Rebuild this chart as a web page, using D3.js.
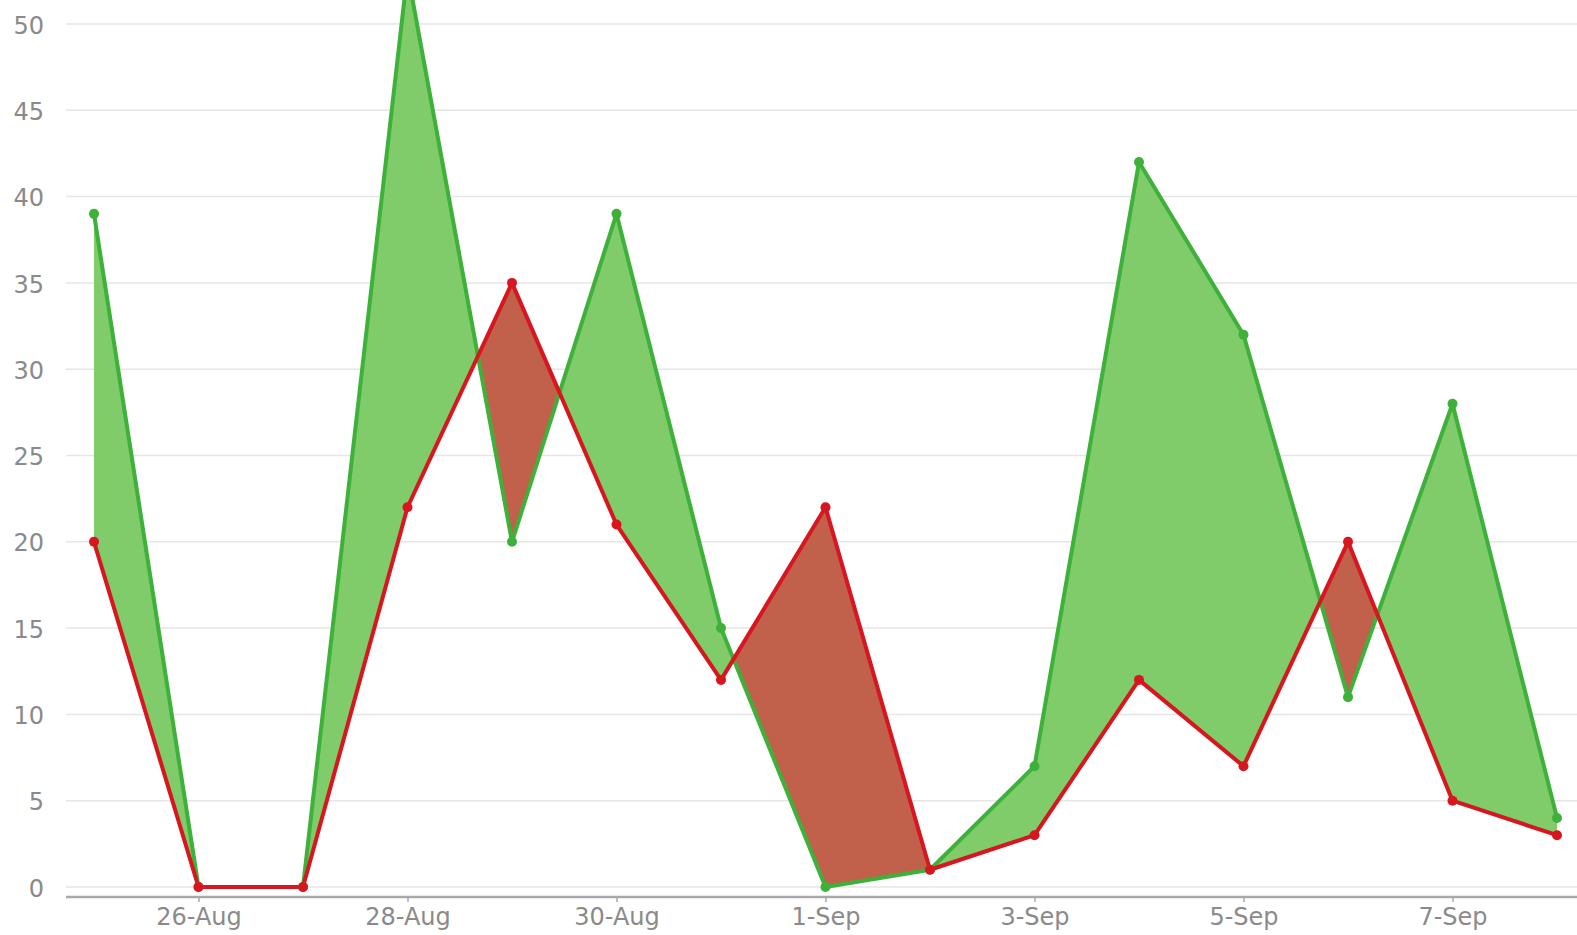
<!DOCTYPE html>
<html>
<head>
<meta charset="utf-8">
<script src="https://cdn.jsdelivr.net/npm/d3@7"></script>
<style>
  body { margin: 0; background: #fff; }
  svg { display: block; }
</style>
</head>
<body>
<div id="chart"></div>
<script>
// dates and the two series
const days = ["2015-08-25", "2015-08-26", "2015-08-27", "2015-08-28", "2015-08-29", "2015-08-30",
    "2015-08-31", "2015-09-01", "2015-09-02", "2015-09-03", "2015-09-04", "2015-09-05",
    "2015-09-06", "2015-09-07", "2015-09-08"];
const greenValues = [39, 0, 0, 53, 20, 39, 15, 0, 1, 7, 42, 32, 11, 28, 4];
const redValues = [20, 0, 0, 22, 35, 21, 12, 22, 1, 3, 12, 7, 20, 5, 3];
const yTicks = [0, 5, 10, 15, 20, 25, 30, 35, 40, 45, 50];
const xTicks = ["2015-08-26", "2015-08-28", "2015-08-30", "2015-09-01", "2015-09-03", "2015-09-05", "2015-09-07"];

const width = 1577, height = 935;
const parse = d3.utcParse("%Y-%m-%d");

const data = days.map((d, i) => ({ date: parse(d), g: greenValues[i], r: redValues[i] }));

const x = d3.scaleUtc()
    .domain([parse(days[0]), parse(days[days.length - 1])])
    .range([94, 1557]);

const y = d3.scaleLinear()
    .domain([0, 50])
    .range([887, 24]);

const svg = d3.select("#chart").append("svg")
    .attr("width", width)
    .attr("height", height)
    .style("font-family", "'DejaVu Sans', sans-serif");

// gridlines
svg.append("g")
    .selectAll("line")
    .data(yTicks)
    .join("line")
    .attr("x1", 66)
    .attr("x2", width)
    .attr("y1", d => y(d))
    .attr("y2", d => y(d))
    .attr("stroke", "#e6e6e6")
    .attr("stroke-width", 1.5);

// y labels
svg.append("g")
    .selectAll("text")
    .data(yTicks)
    .join("text")
    .attr("x", 44)
    .attr("y", d => y(d) + 1)
    .attr("dy", "0.36em")
    .attr("text-anchor", "end")
    .attr("fill", "#8a8a8a")
    .style("font-size", "24px")
    .text(d => d);

// clip regions above and below the red line
const defs = svg.append("defs");
defs.append("clipPath").attr("id", "clip-above")
  .append("path")
    .datum(data)
    .attr("d", d3.area().x(d => x(d.date)).y0(-200).y1(d => y(d.r)));
defs.append("clipPath").attr("id", "clip-below")
  .append("path")
    .datum(data)
    .attr("d", d3.area().x(d => x(d.date)).y0(height + 200).y1(d => y(d.r)));

const between = d3.area()
    .x(d => x(d.date))
    .y0(d => y(d.r))
    .y1(d => y(d.g));

svg.append("path")
    .datum(data)
    .attr("clip-path", "url(#clip-above)")
    .attr("fill", "#80cb6a")
    .attr("d", between);

svg.append("path")
    .datum(data)
    .attr("clip-path", "url(#clip-below)")
    .attr("fill", "#c1604b")
    .attr("d", between);

// x axis
const xAxis = d3.axisBottom(x)
    .tickValues(xTicks.map(parse))
    .tickFormat(d3.utcFormat("%-d-%b"))
    .tickSize(5)
    .tickSizeOuter(0);

const gx = svg.append("g")
    .attr("transform", "translate(0,897)")
    .call(xAxis);
gx.select(".domain")
    .attr("d", `M66,0H${width}`)
    .attr("stroke", "#a8a8a8")
    .attr("stroke-width", 2.5);
gx.selectAll(".tick line").attr("stroke", "#a8a8a8").attr("stroke-width", 1.5);
gx.selectAll(".tick text")
    .attr("fill", "#8a8a8a")
    .attr("y", 11)
    .style("font-size", "24px")
    .style("font-family", "'DejaVu Sans', sans-serif");

// lines
const lineG = d3.line().x(d => x(d.date)).y(d => y(d.g));
const lineR = d3.line().x(d => x(d.date)).y(d => y(d.r));

svg.append("path")
    .datum(data)
    .attr("fill", "none")
    .attr("stroke", "#3db13a")
    .attr("stroke-width", 4)
    .attr("stroke-linejoin", "round")
    .attr("d", lineG);

svg.append("path")
    .datum(data)
    .attr("fill", "none")
    .attr("stroke", "#d8161f")
    .attr("stroke-width", 4)
    .attr("stroke-linejoin", "round")
    .attr("d", lineR);

// markers
svg.append("g")
    .selectAll("circle")
    .data(data)
    .join("circle")
    .attr("cx", d => x(d.date))
    .attr("cy", d => y(d.g))
    .attr("r", 5)
    .attr("fill", "#3db13a");

svg.append("g")
    .selectAll("circle")
    .data(data)
    .join("circle")
    .attr("cx", d => x(d.date))
    .attr("cy", d => y(d.r))
    .attr("r", 5)
    .attr("fill", "#d8161f");
</script>
</body>
</html>
